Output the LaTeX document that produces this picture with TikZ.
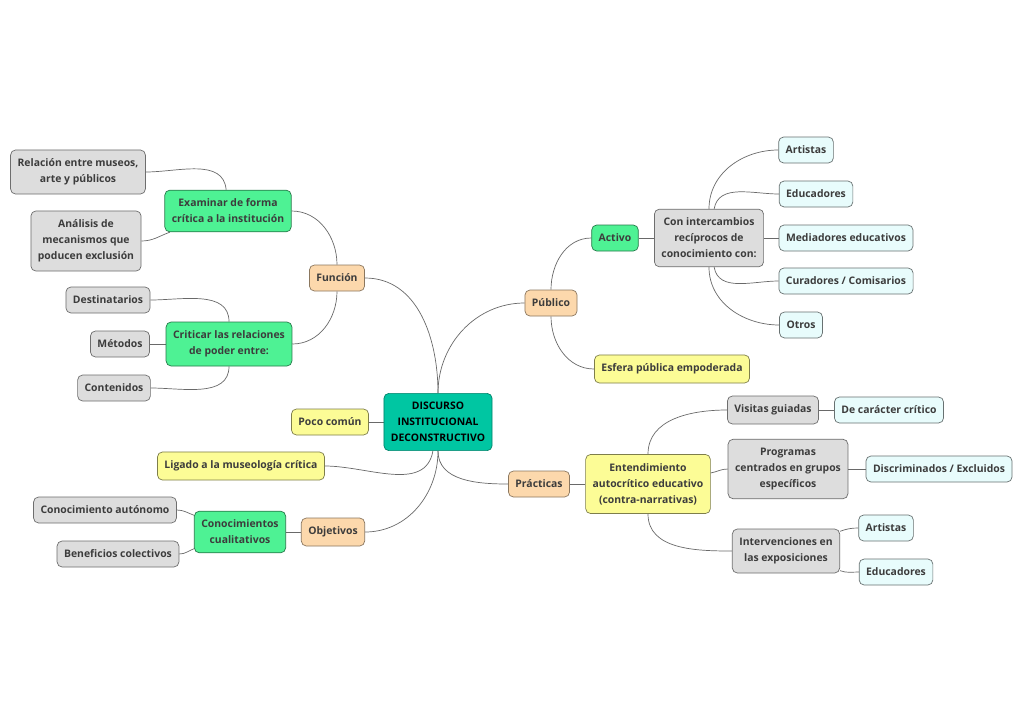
\documentclass[tikz,border=0pt]{standalone}
\usepackage{fontspec}
\setmainfont{Open Sans}
\usetikzlibrary{backgrounds}
\definecolor{cteal}{RGB}{0,198,162}
\definecolor{cpeach}{RGB}{252,216,172}
\definecolor{cgreen}{RGB}{78,242,148}
\definecolor{cyell}{RGB}{252,252,150}
\definecolor{cgray}{RGB}{221,221,221}
\definecolor{ccyan}{RGB}{232,252,252}
\definecolor{txt}{RGB}{60,60,60}
\definecolor{lnk}{RGB}{105,105,105}
\tikzset{
  box/.style={rounded corners=5pt, line width=0.7pt, align=center, text=txt,
    font=\bfseries\fontsize{10.4}{16}\selectfont, inner xsep=7pt, inner ysep=8.8pt,
    minimum height=26pt},
  root/.style={box, fill=cteal, draw=cteal!65!black, text=black},
  topic/.style={box, fill=cpeach, draw=cpeach!55!black},
  sub/.style={box, fill=cgreen, draw=cgreen!50!black},
  note/.style={box, fill=cyell, draw=cyell!50!black},
  leaf/.style={box, fill=cgray, draw=cgray!50!black},
  tip/.style={box, fill=ccyan, draw=ccyan!45!black},
  link/.style={draw=lnk, line width=0.7pt}
}
\begin{document}
\begin{tikzpicture}[x=1pt,y=1pt]
  \useasboundingbox (0,0) rectangle (1024,-725);
  \node [root] (c) at (438,-422) {DISCURSO\\INSTITUCIONAL\\DECONSTRUCTIVO};
  % Left side
  \node [topic] (fun) at (337,-278) {Función};
  \node [sub] (exam) at (228,-211) {Examinar de forma\\crítica a la institución};
  \node [leaf] (rel) at (78,-172) {Relación entre museos,\\arte y públicos};
  \node [leaf] (anal) at (86,-241) {Análisis de\\mecanismos que\\poducen exclusión};
  \node [sub] (crit) at (229,-344) {Criticar las relaciones\\de poder entre:};
  \node [leaf] (dest) at (108,-300) {Destinatarios};
  \node [leaf] (met) at (120,-344) {Métodos};
  \node [leaf] (cont) at (114,-388) {Contenidos};
  \node [note] (poco) at (330,-422) {Poco común};
  \node [note] (lig) at (241,-466) {Ligado a la museología crítica};
  \node [topic] (obj) at (333,-532) {Objetivos};
  \node [sub] (cual) at (240,-532) {Conocimientos\\cualitativos};
  \node [leaf] (aut) at (105,-510) {Conocimiento autónomo};
  \node [leaf] (ben) at (118,-554) {Beneficios colectivos};
  % Right side
  \node [topic] (pub) at (551,-303) {Público};
  \node [sub] (act) at (615,-238) {Activo};
  \node [leaf] (inter) at (709,-238) {Con intercambios\\recíprocos de\\conocimiento con:};
  \node [tip] (art) at (806,-150) {Artistas};
  \node [tip] (edu) at (816,-194) {Educadores};
  \node [tip] (med) at (846,-238) {Mediadores educativos};
  \node [tip] (cur) at (846,-281) {Curadores / Comisarios};
  \node [tip] (otr) at (801,-325) {Otros};
  \node [note] (esf) at (672,-369) {Esfera pública empoderada};
  \node [topic] (prac) at (539,-484) {Prácticas};
  \node [note] (ent) at (648,-484) {Entendimiento\\autocrítico educativo\\(contra-narrativas)};
  \node [leaf] (vis) at (773,-410) {Visitas guiadas};
  \node [tip] (dcc) at (889,-410) {De carácter crítico};
  \node [leaf] (prog) at (788,-469) {Programas\\centrados en grupos\\específicos};
  \node [tip] (disc) at (939,-469) {Discriminados / Excluidos};
  \node [leaf] (interv) at (786,-551) {Intervenciones en\\las exposiciones};
  \node [tip] (art2) at (886,-528) {Artistas};
  \node [tip] (edu2) at (896,-572) {Educadores};
  % Connectors
  \begin{scope}[on background layer]
    \fill [white] (0,0) rectangle (1024,-725);
    \draw [link] (c) to [out=90,in=0] (fun);
    \draw [link] (c) to [out=90,in=180] (pub);
    \draw [link] (c) to [out=-90,in=180] (prac);
    \draw [link] (c) to [out=-90,in=0] (obj);
    \draw [link] (c) to [out=-100,in=0] (lig);
    \draw [link] (c) -- (poco);
    \draw [link] (fun) to [out=90,in=0] (exam);
    \draw [link] (fun) to [out=-90,in=0] (crit);
    \draw [link] (exam) to [out=95,in=0] (rel);
    \draw [link] (exam) to [out=200,in=0] (anal);
    \draw [link] (crit) to [out=90,in=0] (dest);
    \draw [link] (crit) -- (met);
    \draw [link] (crit) to [out=-90,in=0] (cont);
    \draw [link] (obj) -- (cual);
    \draw [link] (cual) to [out=160,in=0] (aut);
    \draw [link] (cual) to [out=200,in=0] (ben);
    \draw [link] (pub) to [out=90,in=180] (act);
    \draw [link] (pub) to [out=-90,in=180] (esf);
    \draw [link] (act) -- (inter);
    \draw [link] (inter) to [out=90,in=180] (art);
    \draw [link] (inter) to [out=80,in=180] (edu);
    \draw [link] (inter) -- (med);
    \draw [link] (inter) to [out=-80,in=180] (cur);
    \draw [link] (inter) to [out=-90,in=180] (otr);
    \draw [link] (prac) -- (ent);
    \draw [link] (ent) to [out=90,in=180] (vis);
    \draw [link] (ent) to [out=10,in=180] (prog);
    \draw [link] (ent) to [out=-90,in=180] (interv);
    \draw [link] (vis) -- (dcc);
    \draw [link] (prog) -- (disc);
    \draw [link] (interv) to [out=20,in=180] (art2);
    \draw [link] (interv) to [out=-20,in=180] (edu2);
  \end{scope}
\end{tikzpicture}
\end{document}
